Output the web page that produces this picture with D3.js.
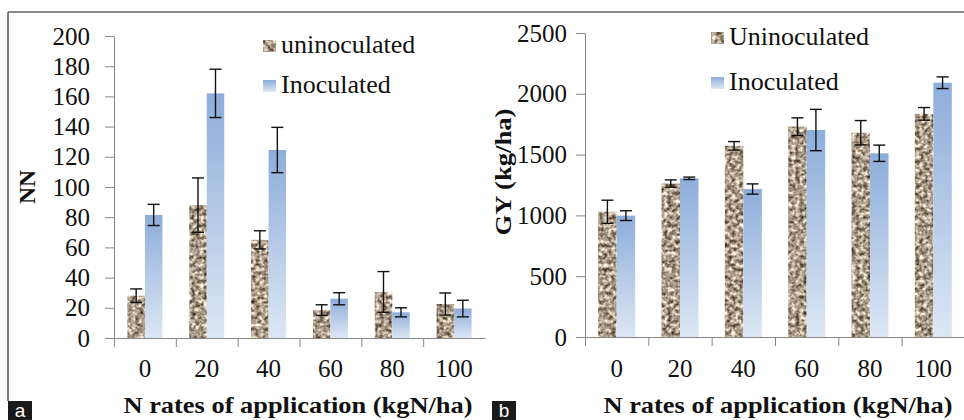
<!DOCTYPE html>
<html>
<head>
<meta charset="utf-8">
<script src="https://cdn.jsdelivr.net/npm/d3@7"></script>
<style>
  html, body { margin: 0; padding: 0; background: #fff; }
  svg { display: block; }
</style>
</head>
<body>
<div id="chart"></div>
<script>
// N rates (kgN/ha)
const rates = ["0", "20", "40", "60", "80", "100"];

// panel a: NN
const nnUninoc = [28, 88, 65, 18.5, 30.5, 22.5];
const nnUninocErr = [4.5, 18, 6, 3.5, 13.5, 7.3];
const nnInoc = [81.5, 162, 124.5, 26, 17, 19.5];
const nnInocErr = [7, 16, 15, 4, 3, 5.5];
const nnTicks = [0, 20, 40, 60, 80, 100, 120, 140, 160, 180, 200];

// panel b: GY (kg/ha)
const gyUninoc = [1030, 1262, 1572, 1730, 1680, 1835];
const gyUninocErr = [95, 30, 35, 72, 100, 52];
const gyInoc = [998, 1305, 1217, 1702, 1511, 2091];
const gyInocErr = [40, 10, 42, 170, 67, 48];
const gyTicks = [0, 500, 1000, 1500, 2000, 2500];

const SERIF = '"Liberation Serif", "Times New Roman", serif';
const W = 964, H = 420;
const svg = d3.select("#chart").append("svg")
  .attr("width", W)
  .attr("height", H);

const defs = svg.append("defs");

// granite-like texture for uninoculated bars
const granite = defs.append("filter")
  .attr("id", "granite")
  .attr("color-interpolation-filters", "sRGB")
  .attr("x", 0).attr("y", 0).attr("width", 1).attr("height", 1);
granite.append("feTurbulence")
  .attr("type", "fractalNoise")
  .attr("baseFrequency", 0.25)
  .attr("numOctaves", 3)
  .attr("seed", 11)
  .attr("result", "noise");
granite.append("feColorMatrix")
  .attr("in", "noise")
  .attr("type", "matrix")
  .attr("values", "1.3 0 0 0 0.02  1.3 0 0 0 -0.04  1.3 0 0 0 -0.11  0 0 0 0 1")
  .attr("result", "col");
granite.append("feComposite")
  .attr("in", "col")
  .attr("in2", "SourceGraphic")
  .attr("operator", "in");

// blue gradient for inoculated bars
const grad = defs.append("linearGradient")
  .attr("id", "blueGrad")
  .attr("x1", 0).attr("y1", 0).attr("x2", 0).attr("y2", 1);
grad.append("stop").attr("offset", "0%").attr("stop-color", "#8dadda");
grad.append("stop").attr("offset", "100%").attr("stop-color", "#dde7f4");

// outer frame
svg.append("line")
  .attr("x1", 8).attr("x2", W).attr("y1", 12).attr("y2", 12)
  .attr("stroke", "#8a8a8a").attr("stroke-width", 2);
svg.append("line")
  .attr("x1", 8).attr("x2", 8).attr("y1", 12).attr("y2", 401)
  .attr("stroke", "#555").attr("stroke-width", 1.5);

function drawPanel(opt) {
  const g = svg.append("g");

  const y = d3.scaleLinear().domain(opt.yDomain).range([opt.y0, opt.y1]);
  const x = d3.scaleBand().domain(rates).range([opt.x0, opt.x1]).padding(0);
  const xPos = d3.scaleLinear().domain([0, rates.length]).range([opt.x0, opt.x1]);

  const axisColor = "#878787";

  // y axis
  const yAxis = g.append("g")
    .attr("transform", `translate(${opt.x0},0)`)
    .call(d3.axisLeft(y).tickValues(opt.ticks).tickFormat(d3.format("d"))
      .tickSize(9).tickPadding(opt.tickPad).tickSizeOuter(0));
  yAxis.select(".domain").attr("stroke", axisColor);
  yAxis.selectAll(".tick line").attr("stroke", axisColor);
  yAxis.selectAll(".tick text")
    .style("font-family", SERIF)
    .style("font-size", "25px")
    .attr("fill", "#111");

  // bars
  const bw = opt.barW;
  const series = [
    { vals: opt.uninoc, err: opt.uninocErr, off: -bw, fill: "#a89686", filter: "url(#granite)" },
    { vals: opt.inoc, err: opt.inocErr, off: 0, fill: "url(#blueGrad)", filter: null }
  ];

  series.forEach(s => {
    g.append("g").selectAll("rect")
      .data(rates)
      .join("rect")
      .attr("x", d => x(d) + x.bandwidth() / 2 + s.off)
      .attr("y", (d, i) => y(s.vals[i]))
      .attr("width", bw)
      .attr("height", (d, i) => y(0) - y(s.vals[i]))
      .attr("fill", s.fill)
      .attr("filter", s.filter);
  });

  // x axis (ticks at category boundaries)
  const xAxis = g.append("g")
    .attr("transform", `translate(0,${opt.y0})`)
    .call(d3.axisBottom(xPos).tickValues(d3.range(rates.length)).tickSize(9).tickFormat("").tickSizeOuter(0));
  xAxis.select(".domain").attr("stroke", axisColor);
  xAxis.selectAll(".tick line").attr("stroke", axisColor);

  g.append("g").selectAll("text")
    .data(rates)
    .join("text")
    .attr("x", d => x(d) + x.bandwidth() / 2)
    .attr("y", 377)
    .attr("text-anchor", "middle")
    .style("font-family", SERIF)
    .style("font-size", "25px")
    .attr("fill", "#111")
    .text(d => d);

  // error bars
  series.forEach(s => {
    const eg = g.append("g").attr("stroke", "#111").attr("stroke-width", 1.4);
    rates.forEach((d, i) => {
      const cx = x(d) + x.bandwidth() / 2 + s.off + bw / 2;
      const top = y(s.vals[i] + s.err[i]);
      const bot = y(s.vals[i] - s.err[i]);
      eg.append("line").attr("x1", cx).attr("x2", cx).attr("y1", top).attr("y2", bot);
      eg.append("line").attr("x1", cx - 6).attr("x2", cx + 6).attr("y1", top).attr("y2", top);
      eg.append("line").attr("x1", cx - 6).attr("x2", cx + 6).attr("y1", bot).attr("y2", bot);
    });
  });

  // legend
  opt.legend.forEach((l, i) => {
    const ly = opt.legY[i];
    g.append("rect")
      .attr("x", opt.legX)
      .attr("y", ly - 13)
      .attr("width", 13)
      .attr("height", 12)
      .attr("fill", series[i].fill)
      .attr("filter", series[i].filter);
    g.append("text")
      .attr("x", opt.legX + 18)
      .attr("y", ly)
      .style("font-family", SERIF)
      .style("font-size", "26px")
      .attr("fill", "#111")
      .text(l);
  });

  // axis titles
  g.append("text")
    .attr("x", opt.xTitleX)
    .attr("y", 413)
    .attr("text-anchor", "middle")
    .style("font-family", SERIF)
    .style("font-size", "24px")
    .style("font-weight", "bold")
    .attr("fill", "#111")
    .attr("textLength", 349)
    .attr("lengthAdjust", "spacingAndGlyphs")
    .text("N rates of application  (kgN/ha)");

  g.append("text")
    .attr("transform", `translate(${opt.yTitleX},${opt.yTitleY}) rotate(-90)`)
    .attr("text-anchor", "middle")
    .style("font-family", SERIF)
    .style("font-size", "24px")
    .style("font-weight", "bold")
    .attr("fill", "#111")
    .attr("textLength", opt.yTitleLen)
    .attr("lengthAdjust", "spacingAndGlyphs")
    .text(opt.yTitle);

  // panel label
  g.append("rect")
    .attr("x", opt.tagX).attr("y", 401)
    .attr("width", 24).attr("height", 19)
    .attr("fill", "#1a1a1a");
  g.append("text")
    .attr("x", opt.tagX + 12).attr("y", 417)
    .attr("text-anchor", "middle")
    .style("font-family", '"Liberation Sans", Arial, sans-serif')
    .style("font-size", "19px")
    .attr("fill", "#fff")
    .text(opt.tag);
}

drawPanel({
  x0: 114, x1: 485, y0: 338, y1: 36,
  yDomain: [0, 200], ticks: nnTicks, tickPad: 15,
  barW: 17.5,
  uninoc: nnUninoc, uninocErr: nnUninocErr,
  inoc: nnInoc, inocErr: nnInocErr,
  legend: ["uninoculated", "Inoculated"],
  legX: 263, legY: [53, 93],
  xTitleX: 298,
  yTitle: "NN", yTitleX: 35, yTitleY: 187, yTitleLen: 34,
  tag: "a", tagX: 8
});

drawPanel({
  x0: 585, x1: 965, y0: 337, y1: 33,
  yDomain: [0, 2500], ticks: gyTicks, tickPad: 9,
  barW: 18.5,
  uninoc: gyUninoc, uninocErr: gyUninocErr,
  inoc: gyInoc, inocErr: gyInocErr,
  legend: ["Uninoculated", "Inoculated"],
  legX: 711, legY: [45, 90],
  xTitleX: 778,
  yTitle: "GY (kg/ha)", yTitleX: 511, yTitleY: 172, yTitleLen: 127,
  tag: "b", tagX: 492
});
</script>
</body>
</html>
